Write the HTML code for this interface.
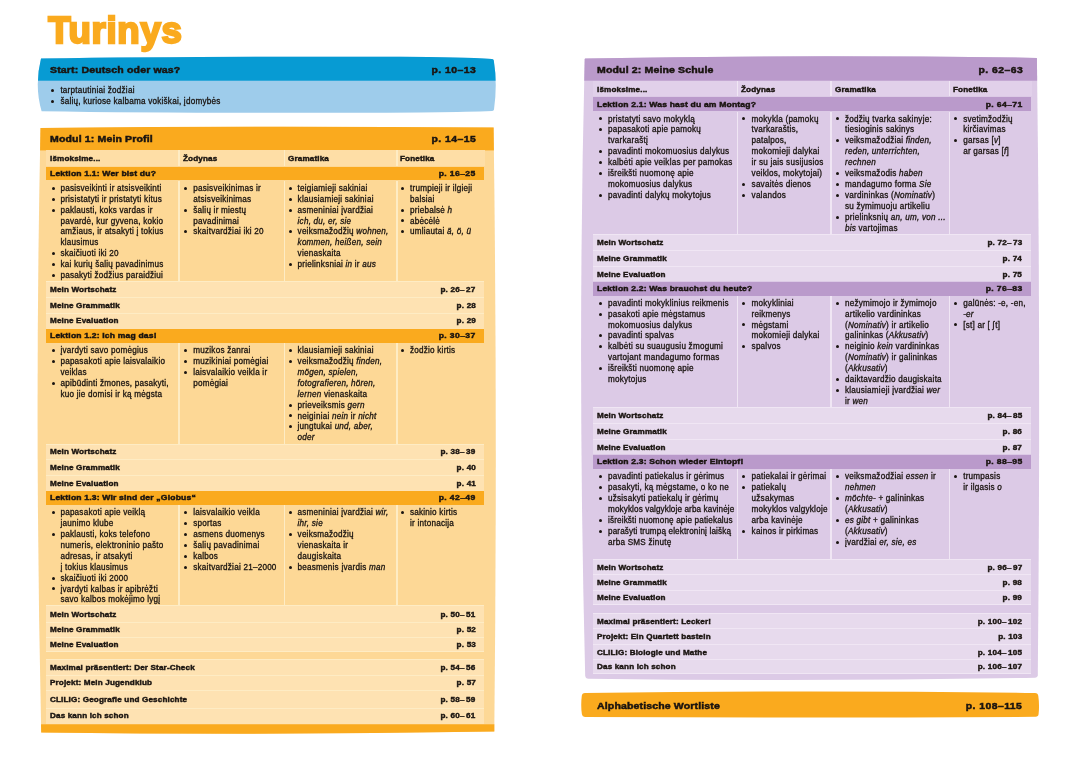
<!DOCTYPE html>
<html><head><meta charset="utf-8"><title>Turinys</title>
<style>
html,body{margin:0;padding:0;background:#fff;}
body{width:1080px;height:764px;position:relative;overflow:hidden;font-family:"Liberation Sans",sans-serif;color:#1a1410;}
div,span,svg{position:absolute;}
span{white-space:nowrap;line-height:1;transform:translateY(-50%);}
.b{font-size:8.15px;margin-top:0.25px;letter-spacing:0.225px;-webkit-text-stroke:0.3px #1a1410;}
.bu{width:3.0px;height:3.0px;border-radius:50%;background:#1a1410;}
.h1{font-weight:bold;font-size:9.8px;letter-spacing:0.13px;-webkit-text-stroke:0.5px #1a1410;transform:translateY(-50%) scaleX(1.075);transform-origin:0 50%;}
.h2{font-weight:bold;font-size:7.6px;letter-spacing:0.15px;-webkit-text-stroke:0.45px #1a1410;transform:translateY(-50%) scaleX(1.13);transform-origin:0 50%;}
.h3{font-weight:bold;font-size:7.5px;letter-spacing:0.14px;-webkit-text-stroke:0.42px #1a1410;transform:translateY(-50%) scaleX(1.08);transform-origin:0 50%;}
.ttl{font-weight:bold;font-size:36.6px;color:#FAAA1E;-webkit-text-stroke:2.3px #FAAA1E;letter-spacing:0.7px;transform:none;}
.pn1{font-weight:bold;font-size:9.8px;letter-spacing:0.43px;-webkit-text-stroke:0.5px #1a1410;margin-right:-0.43px;transform:translateY(-50%) scaleX(1.06);transform-origin:100% 50%;}
.pn2{font-weight:bold;font-size:7.6px;letter-spacing:0.32px;-webkit-text-stroke:0.45px #1a1410;margin-right:-0.32px;transform:translateY(-50%) scaleX(1.13);transform-origin:100% 50%;}
.pn3{font-weight:bold;font-size:7.5px;letter-spacing:0.2px;-webkit-text-stroke:0.42px #1a1410;margin-right:-0.2px;transform:translateY(-50%) scaleX(1.08);transform-origin:100% 50%;}
i{font-style:italic;}
b{font-weight:normal;margin-left:0.8px;}
u{text-decoration:none;margin-left:1.3px;}
</style></head><body><div id="pg" style="left:0;top:0;width:1080px;height:764px;will-change:transform;">

<span class="ttl" style="left:48.2px;top:12.8px;">Turinys</span>
<svg width="1080" height="764" viewBox="0 0 1080 764" style="left:0;top:0"><defs><clipPath id="c0"><path d="M41,58.6 Q200,56.4 400,56.8 Q460,57.2 492,58.9 Q493.6,59 493.8,60.6 Q497.6,84 494,109.4 Q493.8,110.8 492.2,111 Q440,113 300,112.7 Q150,112.9 41.6,111.2 Q34.2,86 41,58.6 Z"/></clipPath></defs><g clip-path="url(#c0)"><rect x="30" y="50" width="480" height="70" fill="#9ECCEB"/><rect x="30" y="50" width="480" height="30.7" fill="#079BD3"/></g></svg>
<span class="h1" style="left:50.20px;top:70.00px;">Start: Deutsch oder was?</span>
<span class="pn1" style="right:604.40px;top:70.00px;">p. 10&#8211;13</span>
<div class="bu" style="left:50.70px;top:88.50px"></div>
<span class="b" style="left:60.40px;top:91.00px">tarptautiniai žodžiai</span>
<div class="bu" style="left:50.70px;top:99.50px"></div>
<span class="b" style="left:60.40px;top:101.93px">šalių, kuriose kalbama vokiškai, įdomybės</span>
<svg width="1080" height="764" viewBox="0 0 1080 764" style="left:0;top:0"><defs><clipPath id="c1"><path d="M40.5,127.9 Q267,125.6 493.6,127.6 Q497.6,420 494.3,731.6 Q267,735.6 41.2,732.5 Q34.3,420 40.5,127.9 Z"/></clipPath></defs><g clip-path="url(#c1)"><rect x="30" y="120" width="480" height="620" fill="#FDD896"/><rect x="30" y="120" width="480" height="30.4" fill="#FAAA1E"/><rect x="30" y="724.3" width="480" height="20" fill="#FAAA1E"/></g></svg>
<span class="h1" style="left:50.20px;top:138.70px;">Modul 1: Mein Profil</span>
<span class="pn1" style="right:604.40px;top:138.70px;">p. 14&#8211;15</span>
<div style="left:46.00px;top:150.40px;width:439.40px;height:15.80px;background:#FEDEA6;"></div>
<div style="left:178.20px;top:150.40px;width:1.50px;height:15.80px;background:#FEECC4;"></div>
<div style="left:283.80px;top:150.40px;width:1.50px;height:15.80px;background:#FEECC4;"></div>
<div style="left:396.20px;top:150.40px;width:1.50px;height:15.80px;background:#FEECC4;"></div>
<span class="h3" style="left:50.20px;top:159.40px;">Išmoksime...</span>
<span class="h3" style="left:182.60px;top:159.40px;">Žodynas</span>
<span class="h3" style="left:288.20px;top:159.40px;">Gramatika</span>
<span class="h3" style="left:400.20px;top:159.40px;">Fonetika</span>
<div style="left:46.00px;top:167.00px;width:437.80px;height:13.40px;background:#FAAA1E;"></div>
<span class="h2" style="left:50.20px;top:173.90px;">Lektion 1.1: Wer bist du?</span>
<span class="pn2" style="right:604.50px;top:173.90px;">p. 16&#8211;25</span>
<div style="left:46.00px;top:181.00px;width:437.80px;height:100.40px;background:#FDD896;"></div>
<div style="left:178.20px;top:181.00px;width:1.50px;height:100.40px;background:#FEECC4;"></div>
<div style="left:283.80px;top:181.00px;width:1.50px;height:100.40px;background:#FEECC4;"></div>
<div style="left:396.20px;top:181.00px;width:1.50px;height:100.40px;background:#FEECC4;"></div>
<div class="bu" style="left:51.50px;top:186.50px"></div>
<span class="b" style="left:60.40px;top:188.50px">pasisveikinti ir atsisveikinti</span>
<div class="bu" style="left:51.50px;top:197.50px"></div>
<span class="b" style="left:60.40px;top:199.43px">prisistatyti ir pristatyti kitus</span>
<div class="bu" style="left:51.50px;top:208.50px"></div>
<span class="b" style="left:60.40px;top:210.36px">paklausti, koks vardas ir</span>
<span class="b" style="left:60.40px;top:221.29px">pavardė, kur gyvena, kokio</span>
<span class="b" style="left:60.40px;top:232.22px">amžiaus, ir atsakyti į tokius</span>
<span class="b" style="left:60.40px;top:243.15px">klausimus</span>
<div class="bu" style="left:51.50px;top:251.50px"></div>
<span class="b" style="left:60.40px;top:254.08px">skaičiuoti iki 20</span>
<div class="bu" style="left:51.50px;top:262.50px"></div>
<span class="b" style="left:60.40px;top:265.01px">kai kurių šalių pavadinimus</span>
<div class="bu" style="left:51.50px;top:273.50px"></div>
<span class="b" style="left:60.40px;top:275.94px">pasakyti žodžius paraidžiui</span>
<div class="bu" style="left:184.40px;top:186.50px"></div>
<span class="b" style="left:193.30px;top:188.50px">pasisveikinimas ir</span>
<span class="b" style="left:193.30px;top:199.43px">atsisveikinimas</span>
<div class="bu" style="left:184.40px;top:208.50px"></div>
<span class="b" style="left:193.30px;top:210.36px">šalių ir miestų</span>
<span class="b" style="left:193.30px;top:221.29px">pavadinimai</span>
<div class="bu" style="left:184.40px;top:229.50px"></div>
<span class="b" style="left:193.30px;top:232.22px">skaitvardžiai iki 20</span>
<div class="bu" style="left:288.90px;top:186.50px"></div>
<span class="b" style="left:297.60px;top:188.50px">teigiamieji sakiniai</span>
<div class="bu" style="left:288.90px;top:197.50px"></div>
<span class="b" style="left:297.60px;top:199.43px">klausiamieji sakiniai</span>
<div class="bu" style="left:288.90px;top:208.50px"></div>
<span class="b" style="left:297.60px;top:210.36px">asmeniniai įvardžiai</span>
<span class="b" style="left:297.60px;top:221.29px"><i>ich, du, er, sie</i></span>
<div class="bu" style="left:288.90px;top:229.50px"></div>
<span class="b" style="left:297.60px;top:232.22px">veiksmažodžių <i>wohnen,</i></span>
<span class="b" style="left:297.60px;top:243.15px"><i>kommen, heißen, sein</i></span>
<span class="b" style="left:297.60px;top:254.08px">vienaskaita</span>
<div class="bu" style="left:288.90px;top:262.50px"></div>
<span class="b" style="left:297.60px;top:265.01px">prielinksniai <i>in</i> ir <i>aus</i></span>
<div class="bu" style="left:401.10px;top:186.50px"></div>
<span class="b" style="left:410.00px;top:188.50px">trumpieji ir ilgieji</span>
<span class="b" style="left:410.00px;top:199.43px">balsiai</span>
<div class="bu" style="left:401.10px;top:208.50px"></div>
<span class="b" style="left:410.00px;top:210.36px">priebalsė <i>h</i></span>
<div class="bu" style="left:401.10px;top:218.50px"></div>
<span class="b" style="left:410.00px;top:221.29px">abėcėlė</span>
<div class="bu" style="left:401.10px;top:229.50px"></div>
<span class="b" style="left:410.00px;top:232.22px">umliautai <i>ä, ö, ü</i></span>
<div style="left:46.00px;top:281.40px;width:437.80px;height:47.20px;background:#FEE2B2;"></div>
<div style="left:46.00px;top:281.30px;width:437.80px;height:1.10px;background:#FEECC4;"></div>
<span class="h3" style="left:50.20px;top:290.40px;">Mein Wortschatz</span>
<span class="pn3" style="right:604.50px;top:290.40px;">p. 26&#8211;<u>27</u></span>
<div style="left:46.00px;top:296.90px;width:437.80px;height:1.10px;background:#FEECC4;"></div>
<span class="h3" style="left:50.20px;top:305.80px;">Meine Grammatik</span>
<span class="pn3" style="right:604.50px;top:305.80px;">p. 28</span>
<div style="left:46.00px;top:312.50px;width:437.80px;height:1.10px;background:#FEECC4;"></div>
<span class="h3" style="left:50.20px;top:321.10px;">Meine Evaluation</span>
<span class="pn3" style="right:604.50px;top:321.10px;">p. 29</span>
<div style="left:46.00px;top:329.20px;width:437.80px;height:13.40px;background:#FAAA1E;"></div>
<span class="h2" style="left:50.20px;top:336.10px;">Lektion 1.2: Ich mag das!</span>
<span class="pn2" style="right:604.50px;top:336.10px;">p. 30&#8211;37</span>
<div style="left:46.00px;top:343.20px;width:437.80px;height:100.40px;background:#FDD896;"></div>
<div style="left:178.20px;top:343.20px;width:1.50px;height:100.40px;background:#FEECC4;"></div>
<div style="left:283.80px;top:343.20px;width:1.50px;height:100.40px;background:#FEECC4;"></div>
<div style="left:396.20px;top:343.20px;width:1.50px;height:100.40px;background:#FEECC4;"></div>
<div class="bu" style="left:51.50px;top:348.50px"></div>
<span class="b" style="left:60.40px;top:350.70px">įvardyti savo pomėgius</span>
<div class="bu" style="left:51.50px;top:359.50px"></div>
<span class="b" style="left:60.40px;top:361.63px">papasakoti apie laisvalaikio</span>
<span class="b" style="left:60.40px;top:372.56px">veiklas</span>
<div class="bu" style="left:51.50px;top:381.50px"></div>
<span class="b" style="left:60.40px;top:383.49px">apibūdinti žmones, pasakyti,</span>
<span class="b" style="left:60.40px;top:394.42px">kuo jie domisi ir ką mėgsta</span>
<div class="bu" style="left:184.40px;top:348.50px"></div>
<span class="b" style="left:193.30px;top:350.70px">muzikos žanrai</span>
<div class="bu" style="left:184.40px;top:359.50px"></div>
<span class="b" style="left:193.30px;top:361.63px">muzikiniai pomėgiai</span>
<div class="bu" style="left:184.40px;top:370.50px"></div>
<span class="b" style="left:193.30px;top:372.56px">laisvalaikio veikla ir</span>
<span class="b" style="left:193.30px;top:383.49px">pomėgiai</span>
<div class="bu" style="left:288.90px;top:348.50px"></div>
<span class="b" style="left:297.60px;top:350.70px">klausiamieji sakiniai</span>
<div class="bu" style="left:288.90px;top:359.50px"></div>
<span class="b" style="left:297.60px;top:361.63px">veiksmažodžių <i>finden,</i></span>
<span class="b" style="left:297.60px;top:372.56px"><i>mögen, spielen,</i></span>
<span class="b" style="left:297.60px;top:383.49px"><i>fotografieren, hören,</i></span>
<span class="b" style="left:297.60px;top:394.42px"><i>lernen</i> vienaskaita</span>
<div class="bu" style="left:288.90px;top:403.50px"></div>
<span class="b" style="left:297.60px;top:405.35px">prieveiksmis <i>gern</i></span>
<div class="bu" style="left:288.90px;top:413.50px"></div>
<span class="b" style="left:297.60px;top:416.28px">neiginiai <i>nein</i> ir <i>nicht</i></span>
<div class="bu" style="left:288.90px;top:424.50px"></div>
<span class="b" style="left:297.60px;top:427.21px">jungtukai <i>und, aber,</i></span>
<span class="b" style="left:297.60px;top:438.14px"><i>oder</i></span>
<div class="bu" style="left:401.10px;top:348.50px"></div>
<span class="b" style="left:410.00px;top:350.70px">žodžio kirtis</span>
<div style="left:46.00px;top:443.60px;width:437.80px;height:47.20px;background:#FEE2B2;"></div>
<div style="left:46.00px;top:443.50px;width:437.80px;height:1.10px;background:#FEECC4;"></div>
<span class="h3" style="left:50.20px;top:452.30px;">Mein Wortschatz</span>
<span class="pn3" style="right:604.50px;top:452.30px;">p. 38&#8211;<u>39</u></span>
<div style="left:46.00px;top:459.10px;width:437.80px;height:1.10px;background:#FEECC4;"></div>
<span class="h3" style="left:50.20px;top:467.90px;">Meine Grammatik</span>
<span class="pn3" style="right:604.50px;top:467.90px;">p. 40</span>
<div style="left:46.00px;top:474.70px;width:437.80px;height:1.10px;background:#FEECC4;"></div>
<span class="h3" style="left:50.20px;top:483.70px;">Meine Evaluation</span>
<span class="pn3" style="right:604.50px;top:483.70px;">p. 41</span>
<div style="left:46.00px;top:491.30px;width:437.80px;height:13.40px;background:#FAAA1E;"></div>
<span class="h2" style="left:50.20px;top:498.20px;">Lektion 1.3: Wir sind der &#8222;Globus&#8220;</span>
<span class="pn2" style="right:604.50px;top:498.20px;">p. 42&#8211;49</span>
<div style="left:46.00px;top:505.30px;width:437.80px;height:99.50px;background:#FDD896;"></div>
<div style="left:178.20px;top:505.30px;width:1.50px;height:99.50px;background:#FEECC4;"></div>
<div style="left:283.80px;top:505.30px;width:1.50px;height:99.50px;background:#FEECC4;"></div>
<div style="left:396.20px;top:505.30px;width:1.50px;height:99.50px;background:#FEECC4;"></div>
<div class="bu" style="left:51.50px;top:510.50px"></div>
<span class="b" style="left:60.40px;top:512.80px">papasakoti apie veiklą</span>
<span class="b" style="left:60.40px;top:523.73px">jaunimo klube</span>
<div class="bu" style="left:51.50px;top:532.50px"></div>
<span class="b" style="left:60.40px;top:534.66px">paklausti, koks telefono</span>
<span class="b" style="left:60.40px;top:545.59px">numeris, elektroninio pašto</span>
<span class="b" style="left:60.40px;top:556.52px">adresas, ir atsakyti</span>
<span class="b" style="left:60.40px;top:567.45px">į tokius klausimus</span>
<div class="bu" style="left:51.50px;top:576.50px"></div>
<span class="b" style="left:60.40px;top:578.38px">skaičiuoti iki 2000</span>
<div class="bu" style="left:51.50px;top:586.50px"></div>
<span class="b" style="left:60.40px;top:589.31px">įvardyti kalbas ir apibrėžti</span>
<span class="b" style="left:60.40px;top:600.24px">savo kalbos mokėjimo lygį</span>
<div class="bu" style="left:184.40px;top:510.50px"></div>
<span class="b" style="left:193.30px;top:512.80px">laisvalaikio veikla</span>
<div class="bu" style="left:184.40px;top:521.50px"></div>
<span class="b" style="left:193.30px;top:523.73px">sportas</span>
<div class="bu" style="left:184.40px;top:532.50px"></div>
<span class="b" style="left:193.30px;top:534.66px">asmens duomenys</span>
<div class="bu" style="left:184.40px;top:543.50px"></div>
<span class="b" style="left:193.30px;top:545.59px">šalių pavadinimai</span>
<div class="bu" style="left:184.40px;top:554.50px"></div>
<span class="b" style="left:193.30px;top:556.52px">kalbos</span>
<div class="bu" style="left:184.40px;top:565.50px"></div>
<span class="b" style="left:193.30px;top:567.45px">skaitvardžiai 21&#8211;2000</span>
<div class="bu" style="left:288.90px;top:510.50px"></div>
<span class="b" style="left:297.60px;top:512.80px">asmeniniai įvardžiai <i>wir,</i></span>
<span class="b" style="left:297.60px;top:523.73px"><i>ihr, sie</i></span>
<div class="bu" style="left:288.90px;top:532.50px"></div>
<span class="b" style="left:297.60px;top:534.66px">veiksmažodžių</span>
<span class="b" style="left:297.60px;top:545.59px">vienaskaita ir</span>
<span class="b" style="left:297.60px;top:556.52px">daugiskaita</span>
<div class="bu" style="left:288.90px;top:565.50px"></div>
<span class="b" style="left:297.60px;top:567.45px">beasmenis įvardis <i>man</i></span>
<div class="bu" style="left:401.10px;top:510.50px"></div>
<span class="b" style="left:410.00px;top:512.80px">sakinio kirtis</span>
<span class="b" style="left:410.00px;top:523.73px">ir intonacija</span>
<div style="left:46.00px;top:604.80px;width:437.80px;height:47.60px;background:#FEE2B2;"></div>
<div style="left:46.00px;top:604.70px;width:437.80px;height:1.10px;background:#FEECC4;"></div>
<span class="h3" style="left:50.20px;top:614.70px;">Mein Wortschatz</span>
<span class="pn3" style="right:604.50px;top:614.70px;">p. 50&#8211;<u>51</u></span>
<div style="left:46.00px;top:621.50px;width:437.80px;height:1.10px;background:#FEECC4;"></div>
<span class="h3" style="left:50.20px;top:630.10px;">Meine Grammatik</span>
<span class="pn3" style="right:604.50px;top:630.10px;">p. 52</span>
<div style="left:46.00px;top:636.90px;width:437.80px;height:1.10px;background:#FEECC4;"></div>
<span class="h3" style="left:50.20px;top:644.90px;">Meine Evaluation</span>
<span class="pn3" style="right:604.50px;top:644.90px;">p. 53</span>
<div style="left:46.00px;top:651.40px;width:437.80px;height:1.10px;background:#FEECC4;"></div>
<div style="left:46.00px;top:659.20px;width:437.80px;height:65.10px;background:#FEE2B2;"></div>
<div style="left:46.00px;top:658.60px;width:437.80px;height:1.10px;background:#FEECC4;"></div>
<span class="h3" style="left:50.20px;top:668.10px;">Maximal präsentiert: Der Star-Check</span>
<span class="pn3" style="right:604.50px;top:668.10px;">p. 54&#8211;<u>56</u></span>
<div style="left:46.00px;top:674.60px;width:437.80px;height:1.10px;background:#FEECC4;"></div>
<span class="h3" style="left:50.20px;top:682.90px;">Projekt: Mein Jugendklub</span>
<span class="pn3" style="right:604.50px;top:682.90px;">p. 57</span>
<div style="left:46.00px;top:690.40px;width:437.80px;height:1.10px;background:#FEECC4;"></div>
<span class="h3" style="left:50.20px;top:699.70px;">CLILIG: Geografie und Geschichte</span>
<span class="pn3" style="right:604.50px;top:699.70px;">p. 58&#8211;<u>59</u></span>
<div style="left:46.00px;top:707.60px;width:437.80px;height:1.10px;background:#FEECC4;"></div>
<span class="h3" style="left:50.20px;top:716.10px;">Das kann ich schon</span>
<span class="pn3" style="right:604.50px;top:716.10px;">p. 60&#8211;<u>61</u></span>
<svg width="1080" height="764" viewBox="0 0 1080 764" style="left:0;top:0"><defs><clipPath id="c2"><path d="M585.2,58.4 Q811,54.4 1036.9,57.9 Q1040.9,360 1037.8,675.2 Q1037.7,677.5 1035.2,677.7 Q811,681.8 588,678.7 Q585.4,678.6 585.2,676 Q577.2,360 584.7,59 Z"/></clipPath></defs><g clip-path="url(#c2)"><rect x="570" y="50" width="480" height="640" fill="#DCCAE6"/><rect x="570" y="50" width="480" height="30.7" fill="#BA9ACB"/></g></svg>
<span class="h1" style="left:597.20px;top:70.40px;">Modul 2: Meine Schule</span>
<span class="pn1" style="right:57.70px;top:70.40px;">p. 62&#8211;63</span>
<div style="left:593.00px;top:81.40px;width:438.60px;height:14.60px;background:#E1D0EA;"></div>
<div style="left:736.50px;top:81.40px;width:1.50px;height:14.60px;background:#F0E6F4;"></div>
<div style="left:830.20px;top:81.40px;width:1.50px;height:14.60px;background:#F0E6F4;"></div>
<div style="left:948.60px;top:81.40px;width:1.50px;height:14.60px;background:#F0E6F4;"></div>
<span class="h3" style="left:597.40px;top:89.80px;">Išmoksime...</span>
<span class="h3" style="left:741.40px;top:89.80px;">Žodynas</span>
<span class="h3" style="left:834.80px;top:89.80px;">Gramatika</span>
<span class="h3" style="left:953.20px;top:89.80px;">Fonetika</span>
<div style="left:593.00px;top:97.40px;width:437.80px;height:13.80px;background:#BA9ACB;"></div>
<span class="h2" style="left:597.20px;top:104.50px;">Lektion 2.1: Was hast du am Montag?</span>
<span class="pn2" style="right:57.70px;top:104.50px;">p. 64&#8211;71</span>
<div style="left:593.00px;top:111.80px;width:437.80px;height:122.00px;background:#DCCAE6;"></div>
<div style="left:736.50px;top:111.80px;width:1.50px;height:122.00px;background:#F0E6F4;"></div>
<div style="left:830.20px;top:111.80px;width:1.50px;height:122.00px;background:#F0E6F4;"></div>
<div style="left:948.60px;top:111.80px;width:1.50px;height:122.00px;background:#F0E6F4;"></div>
<div class="bu" style="left:598.70px;top:116.50px"></div>
<span class="b" style="left:608.00px;top:119.30px">pristatyti savo mokyklą</span>
<div class="bu" style="left:598.70px;top:127.50px"></div>
<span class="b" style="left:608.00px;top:130.23px">papasakoti apie pamokų</span>
<span class="b" style="left:608.00px;top:141.16px">tvarkaraštį</span>
<div class="bu" style="left:598.70px;top:149.50px"></div>
<span class="b" style="left:608.00px;top:152.09px">pavadinti mokomuosius dalykus</span>
<div class="bu" style="left:598.70px;top:160.50px"></div>
<span class="b" style="left:608.00px;top:163.02px">kalbėti apie veiklas per pamokas</span>
<div class="bu" style="left:598.70px;top:171.50px"></div>
<span class="b" style="left:608.00px;top:173.95px">išreikšti nuomonę apie</span>
<span class="b" style="left:608.00px;top:184.88px">mokomuosius dalykus</span>
<div class="bu" style="left:598.70px;top:193.50px"></div>
<span class="b" style="left:608.00px;top:195.81px">pavadinti dalykų mokytojus</span>
<div class="bu" style="left:742.10px;top:116.50px"></div>
<span class="b" style="left:751.60px;top:119.30px">mokykla (pamokų</span>
<span class="b" style="left:751.60px;top:130.23px">tvarkaraštis,</span>
<span class="b" style="left:751.60px;top:141.16px">patalpos,</span>
<span class="b" style="left:751.60px;top:152.09px">mokomieji dalykai</span>
<span class="b" style="left:751.60px;top:163.02px">ir su jais susijusios</span>
<span class="b" style="left:751.60px;top:173.95px">veiklos, mokytojai)</span>
<div class="bu" style="left:742.10px;top:182.50px"></div>
<span class="b" style="left:751.60px;top:184.88px">savaitės dienos</span>
<div class="bu" style="left:742.10px;top:193.50px"></div>
<span class="b" style="left:751.60px;top:195.81px">valandos</span>
<div class="bu" style="left:836.10px;top:116.50px"></div>
<span class="b" style="left:845.00px;top:119.30px">žodžių tvarka sakinyje:</span>
<span class="b" style="left:845.00px;top:130.23px">tiesioginis sakinys</span>
<div class="bu" style="left:836.10px;top:138.50px"></div>
<span class="b" style="left:845.00px;top:141.16px">veiksmažodžiai <i>finden,</i></span>
<span class="b" style="left:845.00px;top:152.09px"><i>reden, unterrichten,</i></span>
<span class="b" style="left:845.00px;top:163.02px"><i>rechnen</i></span>
<div class="bu" style="left:836.10px;top:171.50px"></div>
<span class="b" style="left:845.00px;top:173.95px">veiksmažodis <i>haben</i></span>
<div class="bu" style="left:836.10px;top:182.50px"></div>
<span class="b" style="left:845.00px;top:184.88px">mandagumo forma <i>Sie</i></span>
<div class="bu" style="left:836.10px;top:193.50px"></div>
<span class="b" style="left:845.00px;top:195.81px">vardininkas (<i>Nominativ</i>)</span>
<span class="b" style="left:845.00px;top:206.74px">su žymimuoju artikeliu</span>
<div class="bu" style="left:836.10px;top:215.50px"></div>
<span class="b" style="left:845.00px;top:217.67px">prielinksnių <i>an, um, von ...</i></span>
<span class="b" style="left:845.00px;top:228.60px"><i>bis</i> vartojimas</span>
<div class="bu" style="left:954.30px;top:116.50px"></div>
<span class="b" style="left:963.20px;top:119.30px">svetimžodžių</span>
<span class="b" style="left:963.20px;top:130.23px">kirčiavimas</span>
<div class="bu" style="left:954.30px;top:138.50px"></div>
<span class="b" style="left:963.20px;top:141.16px">garsas [<i>v</i>]</span>
<span class="b" style="left:963.20px;top:152.09px">ar garsas [<i>f</i>]</span>
<div style="left:593.00px;top:233.80px;width:437.80px;height:47.60px;background:#E7DAED;"></div>
<div style="left:593.00px;top:233.70px;width:437.80px;height:1.10px;background:#F0E6F4;"></div>
<span class="h3" style="left:597.20px;top:243.30px;">Mein Wortschatz</span>
<span class="pn3" style="right:57.70px;top:243.30px;">p. 72&#8211;<u>73</u></span>
<div style="left:593.00px;top:250.10px;width:437.80px;height:1.10px;background:#F0E6F4;"></div>
<span class="h3" style="left:597.20px;top:258.80px;">Meine Grammatik</span>
<span class="pn3" style="right:57.70px;top:258.80px;">p. 74</span>
<div style="left:593.00px;top:265.70px;width:437.80px;height:1.10px;background:#F0E6F4;"></div>
<span class="h3" style="left:597.20px;top:275.20px;">Meine Evaluation</span>
<span class="pn3" style="right:57.70px;top:275.20px;">p. 75</span>
<div style="left:593.00px;top:281.80px;width:437.80px;height:13.80px;background:#BA9ACB;"></div>
<span class="h2" style="left:597.20px;top:288.90px;">Lektion 2.2: Was brauchst du heute?</span>
<span class="pn2" style="right:57.70px;top:288.90px;">p. 76&#8211;83</span>
<div style="left:593.00px;top:296.20px;width:437.80px;height:110.60px;background:#DCCAE6;"></div>
<div style="left:736.50px;top:296.20px;width:1.50px;height:110.60px;background:#F0E6F4;"></div>
<div style="left:830.20px;top:296.20px;width:1.50px;height:110.60px;background:#F0E6F4;"></div>
<div style="left:948.60px;top:296.20px;width:1.50px;height:110.60px;background:#F0E6F4;"></div>
<div class="bu" style="left:598.70px;top:301.50px"></div>
<span class="b" style="left:608.00px;top:303.40px">pavadinti mokyklinius reikmenis</span>
<div class="bu" style="left:598.70px;top:312.50px"></div>
<span class="b" style="left:608.00px;top:314.33px">pasakoti apie mėgstamus</span>
<span class="b" style="left:608.00px;top:325.26px">mokomuosius dalykus</span>
<div class="bu" style="left:598.70px;top:333.50px"></div>
<span class="b" style="left:608.00px;top:336.19px">pavadinti spalvas</span>
<div class="bu" style="left:598.70px;top:344.50px"></div>
<span class="b" style="left:608.00px;top:347.12px">kalbėti su suaugusiu žmogumi</span>
<span class="b" style="left:608.00px;top:358.05px">vartojant mandagumo formas</span>
<div class="bu" style="left:598.70px;top:366.50px"></div>
<span class="b" style="left:608.00px;top:368.98px">išreikšti nuomonę apie</span>
<span class="b" style="left:608.00px;top:379.91px">mokytojus</span>
<div class="bu" style="left:742.10px;top:301.50px"></div>
<span class="b" style="left:751.60px;top:303.40px">mokykliniai</span>
<span class="b" style="left:751.60px;top:314.33px">reikmenys</span>
<div class="bu" style="left:742.10px;top:322.50px"></div>
<span class="b" style="left:751.60px;top:325.26px">mėgstami</span>
<span class="b" style="left:751.60px;top:336.19px">mokomieji dalykai</span>
<div class="bu" style="left:742.10px;top:344.50px"></div>
<span class="b" style="left:751.60px;top:347.12px">spalvos</span>
<div class="bu" style="left:836.10px;top:301.50px"></div>
<span class="b" style="left:845.00px;top:303.40px">nežymimojo ir žymimojo</span>
<span class="b" style="left:845.00px;top:314.33px">artikelio vardininkas</span>
<span class="b" style="left:845.00px;top:325.26px">(<i>Nominativ</i>) ir artikelio</span>
<span class="b" style="left:845.00px;top:336.19px">galininkas (<i>Akkusativ</i>)</span>
<div class="bu" style="left:836.10px;top:344.50px"></div>
<span class="b" style="left:845.00px;top:347.12px">neiginio <i>kein</i> vardininkas</span>
<span class="b" style="left:845.00px;top:358.05px">(<i>Nominativ</i>) ir galininkas</span>
<span class="b" style="left:845.00px;top:368.98px">(<i>Akkusativ</i>)</span>
<div class="bu" style="left:836.10px;top:377.50px"></div>
<span class="b" style="left:845.00px;top:379.91px">daiktavardžio daugiskaita</span>
<div class="bu" style="left:836.10px;top:388.50px"></div>
<span class="b" style="left:845.00px;top:390.84px">klausiamieji įvardžiai <i>wer</i></span>
<span class="b" style="left:845.00px;top:401.77px">ir <i>wen</i></span>
<div class="bu" style="left:954.30px;top:301.50px"></div>
<span class="b" style="left:963.20px;top:303.40px">galūnės: -e, -en,</span>
<span class="b" style="left:963.20px;top:314.33px"><i>-er</i></span>
<div class="bu" style="left:954.30px;top:322.50px"></div>
<span class="b" style="left:963.20px;top:325.26px">[st] ar [ &#643;<b>t]</b></span>
<div style="left:593.00px;top:406.80px;width:437.80px;height:47.60px;background:#E7DAED;"></div>
<div style="left:593.00px;top:406.70px;width:437.80px;height:1.10px;background:#F0E6F4;"></div>
<span class="h3" style="left:597.20px;top:416.30px;">Mein Wortschatz</span>
<span class="pn3" style="right:57.70px;top:416.30px;">p. 84&#8211;<u>85</u></span>
<div style="left:593.00px;top:423.10px;width:437.80px;height:1.10px;background:#F0E6F4;"></div>
<span class="h3" style="left:597.20px;top:431.90px;">Meine Grammatik</span>
<span class="pn3" style="right:57.70px;top:431.90px;">p. 86</span>
<div style="left:593.00px;top:438.70px;width:437.80px;height:1.10px;background:#F0E6F4;"></div>
<span class="h3" style="left:597.20px;top:447.60px;">Meine Evaluation</span>
<span class="pn3" style="right:57.70px;top:447.60px;">p. 87</span>
<div style="left:593.00px;top:455.00px;width:437.80px;height:13.80px;background:#BA9ACB;"></div>
<span class="h2" style="left:597.20px;top:462.10px;">Lektion 2.3: Schon wieder Eintopf!</span>
<span class="pn2" style="right:57.70px;top:462.10px;">p. 88&#8211;95</span>
<div style="left:593.00px;top:469.40px;width:437.80px;height:89.60px;background:#DCCAE6;"></div>
<div style="left:736.50px;top:469.40px;width:1.50px;height:89.60px;background:#F0E6F4;"></div>
<div style="left:830.20px;top:469.40px;width:1.50px;height:89.60px;background:#F0E6F4;"></div>
<div style="left:948.60px;top:469.40px;width:1.50px;height:89.60px;background:#F0E6F4;"></div>
<div class="bu" style="left:598.70px;top:474.50px"></div>
<span class="b" style="left:608.00px;top:477.10px">pavadinti patiekalus ir gėrimus</span>
<div class="bu" style="left:598.70px;top:485.50px"></div>
<span class="b" style="left:608.00px;top:488.03px">pasakyti, ką mėgstame, o ko ne</span>
<div class="bu" style="left:598.70px;top:496.50px"></div>
<span class="b" style="left:608.00px;top:498.96px">užsisakyti patiekalų ir gėrimų</span>
<span class="b" style="left:608.00px;top:509.89px;letter-spacing:0.12px">mokyklos valgykloje arba kavinėje</span>
<div class="bu" style="left:598.70px;top:518.50px"></div>
<span class="b" style="left:608.00px;top:520.82px;letter-spacing:0.15px">išreikšti nuomonę apie patiekalus</span>
<div class="bu" style="left:598.70px;top:529.50px"></div>
<span class="b" style="left:608.00px;top:531.75px;letter-spacing:0.14px">parašyti trumpą elektroninį laišką</span>
<span class="b" style="left:608.00px;top:542.68px">arba SMS žinutę</span>
<div class="bu" style="left:742.10px;top:474.50px"></div>
<span class="b" style="left:751.60px;top:477.10px">patiekalai ir gėrimai</span>
<div class="bu" style="left:742.10px;top:485.50px"></div>
<span class="b" style="left:751.60px;top:488.03px">patiekalų</span>
<span class="b" style="left:751.60px;top:498.96px">užsakymas</span>
<span class="b" style="left:751.60px;top:509.89px">mokyklos valgykloje</span>
<span class="b" style="left:751.60px;top:520.82px">arba kavinėje</span>
<div class="bu" style="left:742.10px;top:529.50px"></div>
<span class="b" style="left:751.60px;top:531.75px">kainos ir pirkimas</span>
<div class="bu" style="left:836.10px;top:474.50px"></div>
<span class="b" style="left:845.00px;top:477.10px">veiksmažodžiai <i>essen</i> ir</span>
<span class="b" style="left:845.00px;top:488.03px"><i>nehmen</i></span>
<div class="bu" style="left:836.10px;top:496.50px"></div>
<span class="b" style="left:845.00px;top:498.96px"><i>möchte-</i> + galininkas</span>
<span class="b" style="left:845.00px;top:509.89px">(<i>Akkusativ</i>)</span>
<div class="bu" style="left:836.10px;top:518.50px"></div>
<span class="b" style="left:845.00px;top:520.82px"><i>es gibt</i> + galininkas</span>
<span class="b" style="left:845.00px;top:531.75px">(<i>Akkusativ</i>)</span>
<div class="bu" style="left:836.10px;top:540.50px"></div>
<span class="b" style="left:845.00px;top:542.68px">įvardžiai <i>er, sie, es</i></span>
<div class="bu" style="left:954.30px;top:474.50px"></div>
<span class="b" style="left:963.20px;top:477.10px">trumpasis</span>
<span class="b" style="left:963.20px;top:488.03px">ir ilgasis <i>o</i></span>
<div style="left:593.00px;top:559.00px;width:437.80px;height:46.40px;background:#E7DAED;"></div>
<div style="left:593.00px;top:558.90px;width:437.80px;height:1.10px;background:#F0E6F4;"></div>
<span class="h3" style="left:597.20px;top:567.50px;">Mein Wortschatz</span>
<span class="pn3" style="right:57.70px;top:567.50px;">p. 96&#8211;<u>97</u></span>
<div style="left:593.00px;top:574.30px;width:437.80px;height:1.10px;background:#F0E6F4;"></div>
<span class="h3" style="left:597.20px;top:582.90px;">Meine Grammatik</span>
<span class="pn3" style="right:57.70px;top:582.90px;">p. 98</span>
<div style="left:593.00px;top:589.70px;width:437.80px;height:1.10px;background:#F0E6F4;"></div>
<span class="h3" style="left:597.20px;top:598.30px;">Meine Evaluation</span>
<span class="pn3" style="right:57.70px;top:598.30px;">p. 99</span>
<div style="left:593.00px;top:604.40px;width:437.80px;height:1.10px;background:#F0E6F4;"></div>
<div style="left:593.00px;top:613.20px;width:437.80px;height:60.40px;background:#E7DAED;"></div>
<div style="left:593.00px;top:612.60px;width:437.80px;height:1.10px;background:#F0E6F4;"></div>
<span class="h3" style="left:597.40px;top:621.70px;">Maximal präsentiert: Lecker!</span>
<span class="pn3" style="right:57.70px;top:621.70px;">p. 100&#8211;<u>102</u></span>
<div style="left:593.00px;top:628.40px;width:437.80px;height:1.10px;background:#F0E6F4;"></div>
<span class="h3" style="left:597.40px;top:637.30px;">Projekt: Ein Quartett basteln</span>
<span class="pn3" style="right:57.70px;top:637.30px;">p. 103</span>
<div style="left:593.00px;top:644.00px;width:437.80px;height:1.10px;background:#F0E6F4;"></div>
<span class="h3" style="left:597.40px;top:652.50px;">CLILIG: Biologie und Mathe</span>
<span class="pn3" style="right:57.70px;top:652.50px;">p. 104&#8211;<u>105</u></span>
<div style="left:593.00px;top:658.60px;width:437.80px;height:1.10px;background:#F0E6F4;"></div>
<span class="h3" style="left:597.40px;top:667.10px;">Das kann ich schon</span>
<span class="pn3" style="right:57.70px;top:667.10px;">p. 106&#8211;<u>107</u></span>
<div style="left:593.00px;top:672.60px;width:437.80px;height:1.10px;background:#F0E6F4;"></div>
<svg width="1080" height="764" viewBox="0 0 1080 764" style="left:0;top:0">
<path d="M585,693.0 Q811,689.8 1035,693.0 Q1038,693.2 1038.3,696 Q1039.6,705 1038.6,714 Q1038.4,716.6 1035.6,716.8 Q811,718.2 585,717.0 Q582.2,716.8 581.9,714.2 Q580.6,705 581.8,695.8 Q582,693.2 585,693.0 Z" fill="#FAAA1E"/>
</svg>
<span class="h1" style="left:597.00px;top:706.00px;">Alphabetische Wortliste</span>
<span class="pn1" style="right:57.70px;top:706.00px;">p. 108&#8211;115</span>
</div></body></html>
